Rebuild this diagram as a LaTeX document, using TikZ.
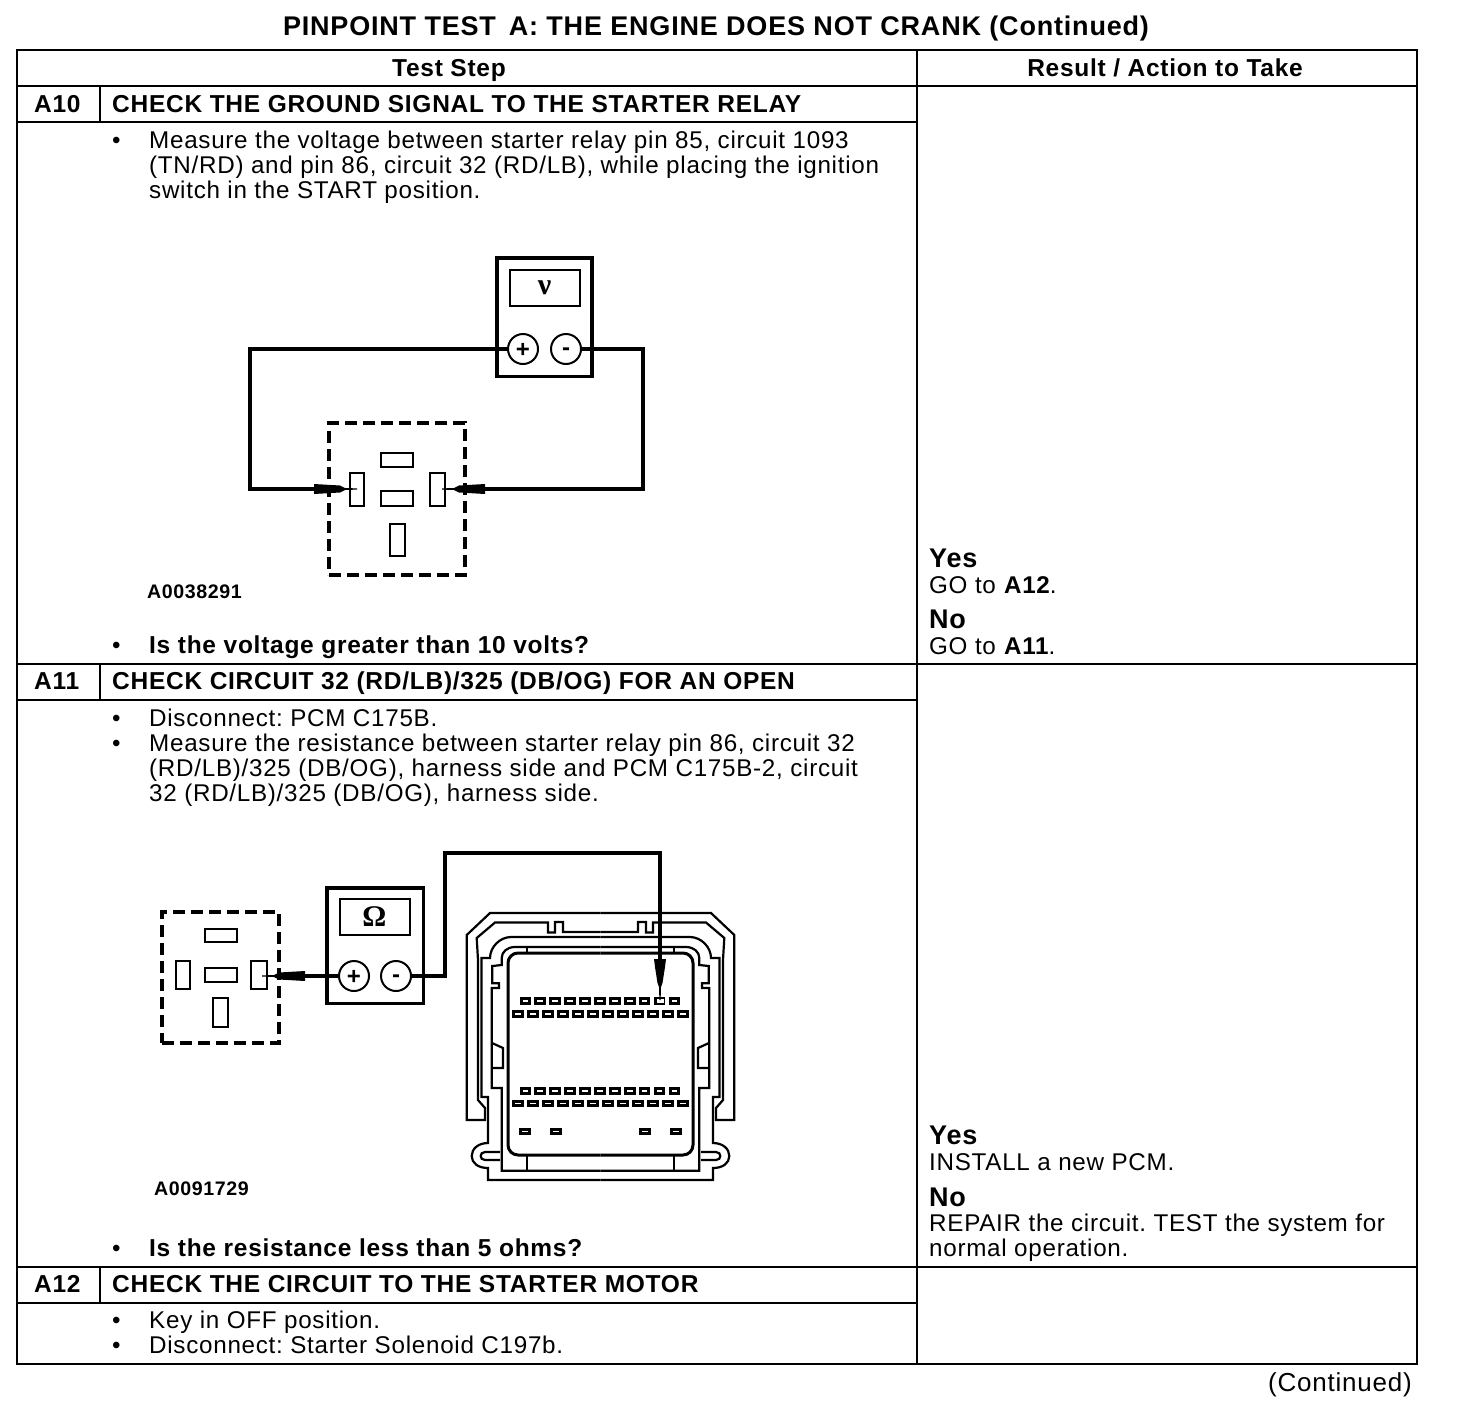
\documentclass[tikz,border=0pt]{standalone}
\usepackage{fontspec}
\setmainfont[LetterSpace=3]{Liberation Sans}
\newfontfamily\symfont{Liberation Serif}
\tikzset{
  bodytxt/.style={anchor=base west,inner sep=0pt,font=\fontsize{24.2}{25}\selectfont},
  boldtxt/.style={anchor=base west,inner sep=0pt,font=\fontsize{24.5}{25}\selectfont\bfseries},
  tagtxt/.style={anchor=base west,inner sep=0pt,font=\fontsize{19.6}{21}\selectfont\bfseries},
  bigtxt/.style={anchor=base west,inner sep=0pt,font=\fontsize{27}{28}\selectfont\bfseries},
  meterbox/.style={draw,line width=3.5pt,inner sep=0pt,minimum width=95pt,minimum height=118.5pt},
  dialbox/.style={draw,line width=2pt,fill=white,inner sep=0pt,minimum width=70pt,minimum height=36pt,font=\symfont\fontsize{30}{30}\selectfont\bfseries},
  jack/.style={draw,circle,line width=2pt,fill=white,inner sep=0pt,minimum size=30pt,text height=13pt,text depth=0pt,font=\fontsize{24}{24}\selectfont\bfseries},
  relaybox/.style={draw,line width=3.5pt,dash pattern=on 12pt off 6pt,inner sep=0pt},
  pinbox/.style={draw,line width=2pt,fill=white,inner sep=0pt},
  wire/.style={line width=4pt},
  probe/.pic={\fill(0,-5)--(26,-3.5)--(31,-1)--(43,-.6)--(43,.6)--(31,1)--(26,3.5)--(0,5)--cycle;},
  probedown/.pic={\fill(0,-6)--(8,-5)--(24,-2.5)--(28,-1)--(41,-.6)--(41,.6)--(28,1)--(24,2.5)--(8,5)--(0,6)--cycle;}
}
\frenchspacing
\begin{document}
\frenchspacing
\begin{tikzpicture}[x=1pt,y=-1pt]
\useasboundingbox(0,0)rectangle(1472,1424);
\draw[line width=2pt](17,50)rectangle(1417,1364);
\draw[line width=2pt](917,50)--(917,1364);
\draw[line width=2pt](17,86)--(1417,86)(17,664)--(1417,664)(17,1267)--(1417,1267);
\foreach \a in {122,700,1303} \draw[line width=2pt](17,\a)--(917,\a);
\foreach \a/\b in {86/122,664/700,1267/1303} \draw[line width=2pt](100,\a)--(100,\b);
\node[bigtxt,anchor=base](title)at(716,35){PINPOINT TEST\, A: THE ENGINE DOES NOT CRANK (Continued)};
\node[boldtxt,anchor=base](stephead)at(449,76){Test Step};
\node[boldtxt,anchor=base](resulthead)at(1165,76){Result / Action to Take};
\foreach \v/\x/\y/\t in {
  a/34/112/A10,aa/112/112/CHECK THE GROUND SIGNAL TO THE STARTER RELAY,
  ab/149/653/Is the voltage greater than 10 volts?,
  b/34/689/A11,ba/112/689/{CHECK CIRCUIT 32 (RD/LB)/325 (DB/OG) FOR AN OPEN},
  bb/149/1256/Is the resistance less than 5 ohms?,
  c/34/1292/A12,ca/112/1292/CHECK THE CIRCUIT TO THE STARTER MOTOR}
  \node[boldtxt](\v)at(\x,\y){\t};
\foreach \v/\x/\y/\t in {
  la/149/148/{Measure the voltage between starter relay pin 85, circuit 1093},
  lb/149/173/{(TN/RD) and pin 86, circuit 32 (RD/LB), while placing the ignition},
  lc/149/198/switch in the START position.,
  ld/149/726/Disconnect: PCM C175B.,
  le/149/751/{Measure the resistance between starter relay pin 86, circuit 32},
  lf/149/776/{(RD/LB)/325 (DB/OG), harness side and PCM C175B-2, circuit},
  lg/149/801/{32 (RD/LB)/325 (DB/OG), harness side.},
  lh/149/1328/Key in OFF position.,
  li/149/1353/Disconnect: Starter Solenoid C197b.,
  da/112/148/•,db/112/726/•,dc/112/751/•,dd/112/1328/•,de/112/1353/•,df/112/653/•,dg/112/1256/•,
  ra/929/593/GO to \textbf{A12}.,
  rb/929/654/GO to \textbf{A11}.,
  rc/929/1170/INSTALL a new PCM.,
  rd/929/1231/REPAIR the circuit. TEST the system for,
  re/929/1256/normal operation.}
  \node[bodytxt](\v)at(\x,\y){\t};
\foreach \v/\y/\t in {ya/567/Yes,na/628/No,yb/1144/Yes,nb/1206/No}
  \node[bigtxt](\v)at(929,\y){\t};
\node[tagtxt](taga)at(147,598){A0038291};
\node[tagtxt](tagb)at(154,1195){A0091729};
\node[bodytxt,anchor=base east,font=\fontsize{26}{28}\selectfont](cont)at(1412,1391){(Continued)};
\node[relaybox,minimum width=136pt,minimum height=152pt](relaya)at(397,499){};
\foreach \n/\x/\y/\w/\h in {pa/397/460/32/14,pb/397/498/32/15,pc/357/489/14/33,pd/437.5/489/15/33,pe/397.5/540/15/32}
  \node[pinbox,minimum width=\w pt,minimum height=\h pt](\n)at(\x,\y){};
\node[meterbox](metera)at(544.5,317){};
\node[dialbox](diala)at(544.5,288){ν};
\coordinate(cornal)at(250,489);
\coordinate(cornar)at(643,489);
\coordinate(probeal)at(314,489);
\coordinate(probear)at(485,489);
\node[jack](plusa)at(523,349){\raisebox{-2pt}{+}};
\node[jack](minusa)at(566,349){-};
\draw[wire](plusa.west)-|(cornal)--(probeal);
\draw[wire](minusa.east)-|(cornar)--(probear);
\pic at(probeal){probe};
\pic[rotate=180]at(probear){probe};
\node[relaybox,minimum width=117pt,minimum height=131pt](relayb)at(220.5,977.5){};
\foreach \n/\x/\y/\w/\h in {qa/221/935.5/32/13,qb/221/975/32/14,qc/183/975/14/28,qd/259/975/16/28,qe/220.5/1012.5/15/29}
  \node[pinbox,minimum width=\w pt,minimum height=\h pt](\n)at(\x,\y){};
\node[meterbox,minimum width=96.5pt,minimum height=115.5pt](meterb)at(375,945.5){};
\node[dialbox](dialb)at(374.5,916.5){Ω};
\node[jack](plusb)at(354,976){\raisebox{-2pt}{+}};
\node[jack](minusb)at(396,976){-};
\coordinate(cornb)at(445,853);
\coordinate(probebl)at(305,976);
\coordinate(probebd)at(660,959);
\draw[wire](plusb.west)--(probebl);
\draw[line width=3.5pt](minusb.east)-|(cornb)-|(probebd);
\pic[rotate=180]at(probebl){probe};
\foreach \m in {1,-1}{
  \begin{scope}[shift={(600.5,0)},xscale=\m,shift={(-600.5,0)},line width=2.2pt]
    \draw(600.5,913)--(490,913)--(466.7,935)--(466.7,1120)--(485,1120)--(485,1108)--(478,1100)--(478,960)--(476.7,938)--(495,922.5)--(548,922.5)--(548,932.5)--(555,932.5)--(555,922)--(563,922)--(563,932)--(600.5,932);
    \draw(600.5,937)--(511,937)..controls(500,937)and(490,947)..(490,958)--(481.5,958)--(481.5,1097)--(488,1097)--(488,1143)..controls(478,1143)and(471.7,1149)..(471.7,1156)..controls(471.7,1163)and(478,1168)..(488,1168)--(488,1180)--(600.5,1180);
    \draw(600.5,947)--(515,947)..controls(507,947)and(501.7,952)..(501.7,958)--(501.7,965)--(492.3,966)--(492.3,983.3)--(499,983.3)--(499,988)--(491.7,988)--(491.7,1088)--(501.7,1088)--(501.7,1170.7)--(600.5,1170.7);
    \draw[line width=3pt,rounded corners=10pt](600.5,953)--(508,953)--(508,1155)--(600.5,1155);
    \draw(526.7,947)--(526.7,953)(526.7,1155)--(526.7,1170.7);
    \draw(500,1152)--(485,1152)..controls(482,1152)and(480.7,1154)..(480.7,1156)..controls(480.7,1158)and(482,1160)..(485,1160)--(500,1160);
    \draw(492,1043)--(503,1048)--(503,1068)--(492,1068);
  \end{scope}
}
\foreach \y in {1001,1091}\foreach \k in {0,...,10}{
  \fill(519.5+\k*14.93,\y-3.7)rectangle(531+\k*14.93,\y+3.7);
  \fill[white](522.5+\k*14.93,\y-.7)rectangle(528+\k*14.93,\y+.7);
}
\foreach \y in {1014,1103.5}\foreach \k in {0,...,11}{
  \fill(512+\k*15,\y-3.7)rectangle(523.5+\k*15,\y+3.7);
  \fill[white](515+\k*15,\y-.7)rectangle(520.5+\k*15,\y+.7);
}
\foreach \x in {518.5,549.5,638.5,669.5}{
  \fill(\x,1128.3)rectangle(\x+12.5,1135);
  \fill[white](\x+3,1131)rectangle(\x+9.5,1132.4);
}
\fill[white](656.5,998.5)rectangle(663.5,1003);
\pic[rotate=-90]at(probebd){probedown};
\end{tikzpicture}
\end{document}
